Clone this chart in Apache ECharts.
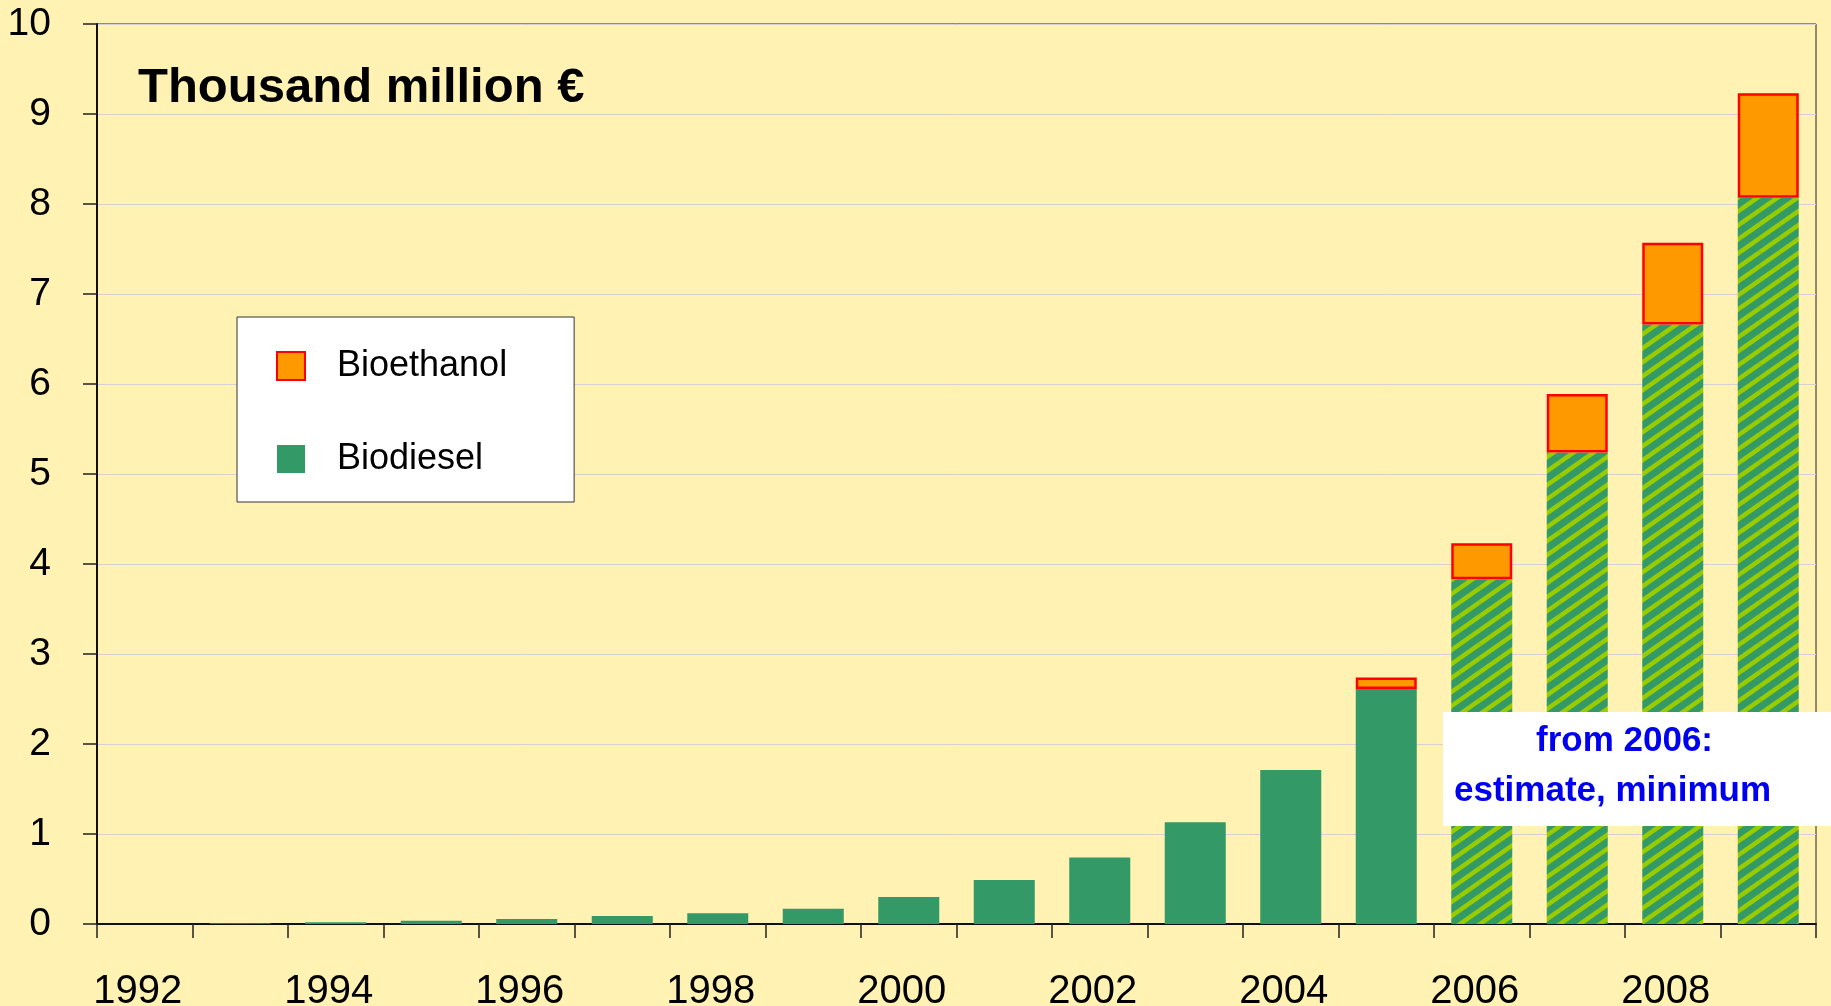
<!DOCTYPE html>
<html>
<head>
<meta charset="utf-8">
<script src="https://cdn.jsdelivr.net/npm/echarts@6/dist/echarts.min.js"></script>
<style>
  html, body { margin: 0; padding: 0; background: #FFF2B3; }
  #chart { width: 1831px; height: 1006px; }
</style>
</head>
<body>
<div id="chart"></div>
<script>
// ---- data ----
const years = ['1992','1993','1994','1995','1996','1997','1998','1999','2000',
               '2001','2002','2003','2004','2005','2006','2007','2008','2009'];
const biodiesel = [0, 0.008, 0.02, 0.035, 0.055, 0.09, 0.12, 0.17, 0.30,
                   0.49, 0.74, 1.13, 1.71, 2.61, 3.83, 5.24, 6.66, 8.07];
const bioethanol = [null, null, null, null, null, null, null, null, null,
                    null, null, null, null, 0.13, 0.40, 0.65, 0.91, 1.16];
const estimateFrom = '2006';
const yTicks = [0, 10, 1]; // min, max, interval
const titleText = 'Thousand million €';
const noteLines = ['from 2006:', 'estimate, minimum'];

// ---- hatch pattern for estimated bars ----
function makeHatch() {
  const W = 20, H = 14;
  const c = document.createElement('canvas');
  c.width = W; c.height = H;
  const g = c.getContext('2d');
  g.fillStyle = '#339966';
  g.fillRect(0, 0, W, H);
  g.strokeStyle = '#99CC00';
  g.lineWidth = 4.5;
  [[-W, 0], [0, 0], [W, 0], [0, -H], [0, H]].forEach(([dx, dy]) => {
    g.beginPath();
    g.moveTo(0 + dx, H + dy);
    g.lineTo(W + dx, 0 + dy);
    g.stroke();
  });
  return c;
}
const hatch = { image: makeHatch(), repeat: 'repeat' };
const estIdx = years.indexOf(estimateFrom);

const biodieselData = biodiesel.map((v, i) =>
  i >= estIdx ? { value: v, itemStyle: { color: hatch } } : v);

const chart = echarts.init(document.getElementById('chart'), null, { renderer: 'canvas' });
chart.setOption({
  backgroundColor: '#FFF2B3',
  animation: false,
  textStyle: { fontFamily: '"Liberation Sans", Arial, sans-serif' },
  grid: {
    left: 97, right: 15, top: 24, bottom: 82,
    containLabel: false, outerBoundsMode: 'none',
    show: true, borderColor: '#222', borderWidth: 1, backgroundColor: 'transparent'
  },
  legend: {
    orient: 'vertical',
    left: 237, top: 317,
    data: ['Bioethanol', 'Biodiesel'],
    icon: 'rect',
    itemWidth: 28, itemHeight: 28,
    itemGap: 57,
    padding: [31, 67, 25, 39],
    backgroundColor: '#ffffff',
    borderColor: '#333333', borderWidth: 1,
    textStyle: { fontSize: 36, color: '#000', padding: [0, 0, 0, 27],
                 fontFamily: '"Liberation Sans", Arial, sans-serif' },
    selectedMode: false
  },
  xAxis: {
    type: 'category',
    data: years,
    boundaryGap: true,
    axisLine: { lineStyle: { color: '#111', width: 2 } },
    axisTick: { show: true, interval: 0, length: 14, inside: false,
                lineStyle: { color: '#222', width: 1.5 } },
    axisLabel: { interval: 1, fontSize: 40, color: '#000', margin: 48,
                 padding: [0, 14, 0, 0] },
    splitLine: { show: false }
  },
  yAxis: {
    type: 'value',
    min: yTicks[0], max: yTicks[1], interval: yTicks[2],
    axisLine: { show: true, lineStyle: { color: '#111', width: 2 } },
    axisTick: { show: true, length: 14, lineStyle: { color: '#222', width: 1.5 } },
    axisLabel: { fontSize: 39, color: '#000', margin: 46 },
    splitLine: { show: true, lineStyle: { color: '#d2d2d2', width: 1 } }
  },
  series: [
    {
      name: 'Biodiesel',
      type: 'bar',
      stack: 'total',
      barWidth: 61,
      itemStyle: { color: '#339966' },
      data: biodieselData
    },
    {
      name: 'Bioethanol',
      type: 'bar',
      stack: 'total',
      barWidth: 61,
      itemStyle: { color: '#FF9900', borderColor: '#FF0000', borderWidth: 2.5 },
      data: bioethanol
    }
  ],
  graphic: [
    {
      type: 'text', left: 138, top: 64, z: 100,
      style: { text: titleText, fill: '#000',
               font: 'bold 49px "Liberation Sans", Arial, sans-serif' }
    },
    {
      type: 'rect', z: 100,
      shape: { x: 1443, y: 712, width: 420, height: 114 },
      style: { fill: '#ffffff' }
    },
    {
      type: 'text', z: 101, x: 1536, y: 741,
      style: { text: noteLines[0], fill: '#0000F0', textVerticalAlign: 'middle',
               font: 'bold 35px "Liberation Sans", Arial, sans-serif' }
    },
    {
      type: 'text', z: 101, x: 1454, y: 791,
      style: { text: noteLines[1], fill: '#0000F0', textVerticalAlign: 'middle',
               font: 'bold 35px "Liberation Sans", Arial, sans-serif' }
    }
  ]
});
</script>
</body>
</html>
